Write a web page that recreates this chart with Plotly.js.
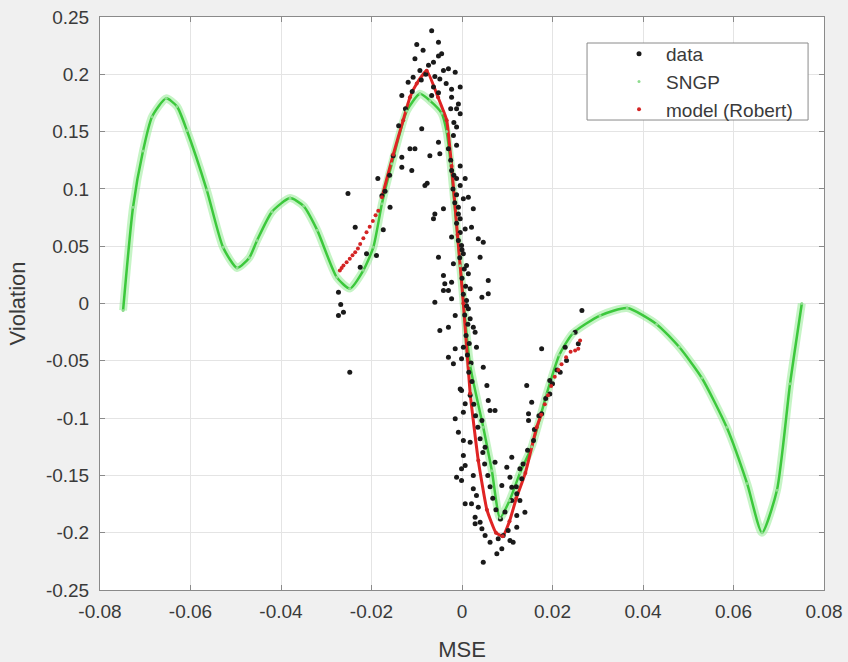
<!DOCTYPE html>
<html>
<head>
<meta charset="utf-8">
<script src="https://cdn.plot.ly/plotly-3.0.1.min.js"></script>
<style>
  html, body { margin: 0; padding: 0; background: #f0f0f0; }
  #chart { width: 848px; height: 662px; }
</style>
</head>
<body>
<div id="chart"></div>
<script>
// ---- data ----
const dataX = [
  -0.0067,-0.0052,-0.0100,-0.0086,-0.0045,-0.0052,-0.0104,-0.0063,-0.0074,-0.0030,
  -0.0041,-0.0093,-0.0015,-0.0108,-0.0119,-0.0049,-0.0063,-0.0023,-0.0004,-0.0133,
  -0.0067,-0.0052,-0.0023,-0.0008,-0.0012,-0.0004,-0.0089,-0.0012,-0.0019,-0.0052,
  -0.0115,-0.0104,-0.0152,-0.0133,-0.0071,-0.0012,-0.0004,-0.0049,-0.0252,-0.0186,
  -0.0111,-0.0077,-0.0133,-0.0236,-0.0159,-0.0174,-0.0211,-0.0189,-0.0225,-0.0273,
  -0.0268,-0.0262,-0.0273,-0.0248,-0.0177,
  -0.0082,-0.0023,-0.0012,0.0007,-0.0004,-0.0060,-0.0063,-0.0041,0.0014,0.0003,
  0.0025,-0.0008,-0.0004,0.0021,0.0007,-0.0023,0.0036,0.0047,-0.0001,0.0003,
  -0.0052,0.0040,-0.0019,0.0010,-0.0041,0.0014,0.0058,-0.0038,-0.0023,-0.0041,
  -0.0030,0.0018,0.0058,0.0044,-0.0060,-0.0023,0.0010,-0.0015,0.0014,0.0018,
  -0.0049,-0.0030,0.0025,0.0029,0.0032,-0.0015,0.0003,-0.0030,-0.0001,-0.0019,
  -0.0004,0.0047,0.0055,
  -0.0001,0.0143,-0.0015,0.0003,0.0007,0.0058,0.0062,0.0073,0.0044,0.0154,
  0.0147,0.0147,-0.0008,0.0003,0.0018,0.0051,0.0003,0.0007,-0.0001,-0.0012,
  -0.0001,0.0025,0.0073,0.0099,0.0110,0.0088,0.0025,0.0032,0.0007,0.0021,
  0.0036,0.0029,0.0029,0.0040,0.0044,0.0051,0.0062,0.0080,0.0091,0.0106,
  0.0113,0.0121,0.0121,0.0102,0.0088,0.0077,0.0047,0.0110,0.0121,0.0128,
  0.0139,0.0132,0.0106,0.0128,0.0194,0.0176,0.0158,
  0.0265,0.0176,0.0194,0.0228,0.0231,0.0217,0.0250,0.0257,
  -0.0025,-0.0018,-0.0020,-0.0012,-0.0016,-0.0008,-0.0012,-0.0004,-0.0008,0.0000,
  -0.0005,0.0005,0.0000,0.0008,0.0003,0.0010,0.0006,0.0013,0.0009,0.0016,
  0.0012,0.0020,0.0015,0.0022,0.0018,0.0026,0.0030,0.0035,0.0040,0.0046,
  0.0050,0.0057,0.0062,0.0068,0.0075,0.0085,0.0095,0.0110,0.0120,0.0135,
  0.0145,0.0160,0.0170,0.0185,0.0200,0.0210,-0.0090,-0.0080,-0.0060,-0.0035,
  -0.0025,-0.0018,-0.0030,-0.0140,-0.0125,-0.0110,-0.0160,-0.0170
];
const dataY = [
  0.238,0.228,0.226,0.221,0.218,0.216,0.2135,0.2106,0.208,0.2048,
  0.2033,0.2033,0.2018,0.1975,0.193,0.196,0.189,0.187,0.189,0.1815,
  0.1815,0.184,0.180,0.174,0.170,0.1655,0.1525,0.154,0.1466,0.1407,
  0.135,0.135,0.129,0.1277,0.129,0.138,0.120,0.1306,0.096,0.109,
  0.116,0.105,0.119,0.0666,0.084,0.0643,0.0434,0.0419,0.0317,0.0099,
  -0.0009,-0.0076,-0.0105,-0.060,0.094,
  0.103,0.116,0.109,0.109,0.103,0.078,0.074,0.0826,0.0928,0.0913,
  0.0826,0.084,0.074,0.0666,0.065,0.058,0.0565,0.0535,0.0506,0.0434,
  0.0404,0.0404,0.0346,0.0332,0.0244,0.0259,0.0201,0.0172,0.0186,0.0113,
  0.0113,0.0128,0.0085,0.0055,0.0011,0.0041,0.0026,-0.0105,-0.0046,-0.0134,
  -0.0236,-0.0207,-0.0207,-0.025,-0.0381,-0.0395,-0.0381,-0.0469,-0.0483,-0.0526,
  -0.0745,-0.0556,-0.0716,
  -0.0759,-0.0716,-0.1006,-0.0948,-0.0875,-0.0846,-0.0934,-0.0934,-0.1021,-0.0861,
  -0.0962,-0.1021,-0.1123,-0.1195,-0.121,-0.1254,-0.1326,-0.1414,-0.1442,-0.1516,
  -0.1545,-0.1501,-0.1385,-0.1428,-0.1341,-0.1588,-0.1617,-0.1675,-0.1748,-0.1748,
  -0.1777,-0.1865,-0.1922,-0.1908,-0.1966,-0.2024,-0.2083,-0.2053,-0.2024,-0.2068,
  -0.2083,-0.1952,-0.185,-0.1981,-0.214,-0.2184,-0.2257,-0.1603,-0.1661,-0.1442,
  -0.1821,-0.153,-0.1516,-0.1719,-0.079,-0.0962,-0.1195,
  -0.0061,-0.0395,-0.0672,-0.0381,-0.0497,-0.060,-0.025,-0.0352,
  0.125,0.112,0.100,0.095,0.088,0.078,0.070,0.062,0.055,0.047,
  0.040,0.030,0.022,0.015,0.008,-0.002,-0.010,-0.018,-0.028,-0.035,
  -0.045,-0.052,-0.060,-0.068,-0.080,-0.088,-0.098,-0.108,-0.118,-0.130,
  -0.140,-0.150,-0.160,-0.170,-0.180,-0.188,-0.182,-0.172,-0.160,-0.140,
  -0.128,-0.110,-0.098,-0.083,-0.070,-0.058,0.195,0.200,0.198,0.192,
  0.170,0.158,0.135,0.155,0.170,0.185,0.112,0.098
];

const sngpX = [-0.0749,-0.0727,-0.0705,-0.0685,-0.0654,-0.0630,-0.0608,-0.0564,-0.0528,-0.0497,
  -0.0470,-0.0453,-0.0420,-0.0380,-0.0350,-0.0320,-0.0277,-0.0248,-0.0218,-0.0196,
  -0.0177,-0.0155,-0.0122,-0.0093,-0.0071,-0.0045,-0.0034,-0.0025,-0.0004,0.0018,
  0.0047,0.0066,0.0084,0.0105,0.0128,0.0154,0.0187,0.0215,0.0245,0.0305,
  0.0365,0.0430,0.0480,0.0530,0.0585,0.0630,0.0663,0.0696,0.0725,0.0751];
const sngpY = [-0.006,0.084,0.133,0.163,0.179,0.172,0.151,0.099,0.049,0.031,
  0.040,0.055,0.080,0.092,0.085,0.064,0.023,0.013,0.029,0.049,
  0.087,0.122,0.168,0.183,0.177,0.166,0.150,0.122,0.033,-0.054,
  -0.108,-0.146,-0.187,-0.172,-0.148,-0.125,-0.079,-0.045,-0.026,-0.0105,
  -0.004,-0.018,-0.038,-0.065,-0.108,-0.157,-0.200,-0.163,-0.070,0.000];

const modelX = [-0.0270,-0.0266,-0.0262,-0.0255,-0.0248,-0.0242,-0.0236,-0.0230,-0.0225,-0.0218,
  -0.0211,-0.0204,-0.0197,-0.0191,-0.0185,-0.0177,-0.0152,-0.0130,-0.0115,-0.0100,
  -0.0078,-0.0053,-0.0034,-0.0023,-0.0010,0.0003,0.0018,0.0036,0.0055,0.0075,
  0.0090,0.0105,0.0120,0.0140,0.0165,0.0175,0.0183,0.0190,0.0197,0.0205,
  0.0213,0.0220,0.0230,0.0240,0.0250,0.0257,0.0261];
const modelY = [0.0288,0.0310,0.0332,0.0360,0.0390,0.0420,0.0448,0.0480,0.0520,0.0570,
  0.0622,0.0670,0.0720,0.0770,0.0810,0.0928,0.1300,0.1600,0.1800,0.1920,
  0.2030,0.1800,0.1600,0.1200,0.0600,0.0000,-0.0785,-0.1370,-0.1800,-0.2000,
  -0.2030,-0.1900,-0.1700,-0.1480,-0.1080,-0.0970,-0.0880,-0.0800,-0.0720,-0.0640,
  -0.0580,-0.0530,-0.0470,-0.0420,-0.0410,-0.0395,-0.0323];

const xTickVals = [-0.08,-0.06,-0.04,-0.02,0,0.02,0.04,0.06,0.08];
const xTickText = ['-0.08','-0.06','-0.04','-0.02','0','0.02','0.04','0.06','0.08'];
const yTickVals = [-0.25,-0.2,-0.15,-0.1,-0.05,0,0.05,0.1,0.15,0.2,0.25];
const yTickText = ['-0.25','-0.2','-0.15','-0.1','-0.05','0','0.05','0.1','0.15','0.2','0.25'];

const seriesNames = ['data', 'SNGP', 'model (Robert)'];

// solid part of the model curve (the tails are drawn as dots only)
const coreStart = 15, coreEnd = 36;

// ---- traces ----
const traces = [
  { x: sngpX, y: sngpY, mode: 'lines', showlegend: false, hoverinfo: 'skip',
    line: { color: 'rgba(150,235,150,0.55)', width: 8, shape: 'spline', smoothing: 0.6 } },
  { x: sngpX, y: sngpY, mode: 'lines', showlegend: false,
    line: { color: '#3cc83c', width: 2.5, shape: 'spline', smoothing: 0.6 } },
  { x: modelX.slice(coreStart, coreEnd), y: modelY.slice(coreStart, coreEnd), mode: 'lines', showlegend: false,
    line: { color: '#e02424', width: 3, shape: 'spline', smoothing: 0.4 } },
  { x: dataX, y: dataY, mode: 'markers', name: seriesNames[0], legendrank: 1,
    marker: { color: '#1a1a1a', size: 5, symbol: 'circle' } },
  { x: sngpX, y: sngpY, mode: 'markers', name: seriesNames[1], legendrank: 2,
    marker: { color: '#8edc8e', size: 3 } },
  { x: modelX, y: modelY, mode: 'markers', name: seriesNames[2], legendrank: 3,
    marker: { color: '#d42424', size: 4 } }
];

const axisCommon = {
  showline: true, mirror: 'ticks', linecolor: '#8a8a8a', linewidth: 1,
  ticks: 'inside', ticklen: 5, tickcolor: '#8a8a8a',
  showgrid: true, gridcolor: '#e4e4e4', gridwidth: 1, zeroline: false,
  tickfont: { family: 'Liberation Sans, Arial, sans-serif', size: 19, color: '#3a3a3a' }
};

const layout = {
  width: 848, height: 662,
  paper_bgcolor: '#f0f0f0', plot_bgcolor: '#ffffff',
  margin: { l: 100, r: 24, t: 17, b: 72 },
  font: { family: 'Liberation Sans, Arial, sans-serif', color: '#3a3a3a' },
  xaxis: Object.assign({}, axisCommon, {
    range: [-0.08, 0.08], tickvals: xTickVals, ticktext: xTickText, ticklabelstandoff: 4,
    title: { text: 'MSE', font: { size: 22, color: '#3a3a3a' }, standoff: 20 }
  }),
  yaxis: Object.assign({}, axisCommon, {
    range: [-0.25, 0.25], tickvals: yTickVals, ticktext: yTickText, ticklabelstandoff: 6,
    title: { text: 'Violation', font: { size: 22, color: '#3a3a3a' }, standoff: 14 }
  }),
  legend: {
    x: 0.7072, y: 0.9686, xanchor: 'left', yanchor: 'top',
    bgcolor: 'rgba(0,0,0,0)', borderwidth: 0,
    font: { size: 19, color: '#3a3a3a' }, itemwidth: 44, tracegroupgap: 0
  },
  shapes: [
    { type: 'rect', xref: 'paper', yref: 'paper', x0: 0.6727, x1: 0.978, y0: 0.8202, y1: 0.9546,
      fillcolor: '#ffffff', line: { color: '#8a8a8a', width: 1 }, layer: 'above' }
  ],
  showlegend: true
};

Plotly.newPlot('chart', traces, layout, { displayModeBar: false, staticPlot: true });
</script>
</body>
</html>
